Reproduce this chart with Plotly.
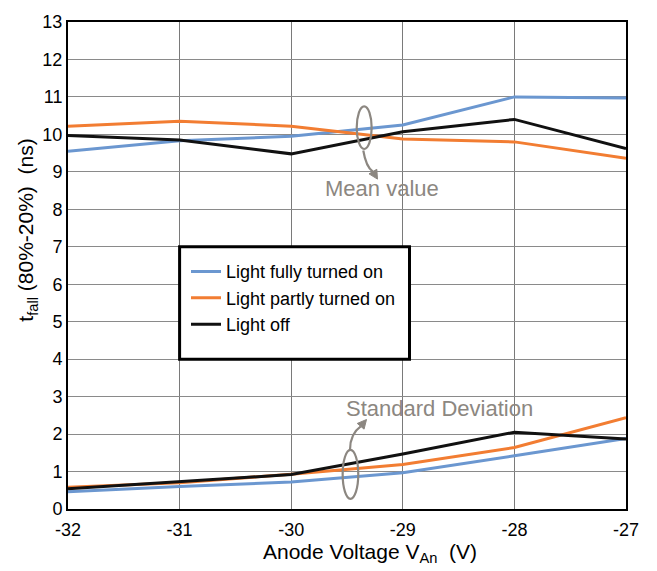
import plotly.graph_objects as go

# ---- data ----
voltage = [-32, -31, -30, -29, -28, -27]

mean_full = [9.55, 9.83, 9.95, 10.25, 11.0, 10.97]
mean_partly = [10.22, 10.35, 10.22, 9.88, 9.80, 9.36]
mean_off = [9.97, 9.85, 9.48, 10.07, 10.40, 9.62]

std_full = [0.46, 0.60, 0.72, 0.97, 1.42, 1.88]
std_partly = [0.58, 0.70, 0.93, 1.19, 1.64, 2.44]
std_off = [0.54, 0.72, 0.92, 1.47, 2.05, 1.87]

series_names = ["Light fully turned on", "Light partly turned on", "Light off"]
series_colors = ["#6b97d0", "#f27d32", "#111111"]

y_ticks = list(range(0, 14))
x_ticks = [-32, -31, -30, -29, -28, -27]

FONT = "Liberation Sans, Arial, sans-serif"
GRAY = "#8c8781"

fig = go.Figure()
for name, color, m, s in zip(series_names, series_colors,
                             [mean_full, mean_partly, mean_off],
                             [std_full, std_partly, std_off]):
    fig.add_trace(go.Scatter(x=voltage, y=m, mode="lines", name=name,
                             line=dict(color=color, width=3), legendgroup=name))
    fig.add_trace(go.Scatter(x=voltage, y=s, mode="lines", name=name,
                             line=dict(color=color, width=3), legendgroup=name,
                             showlegend=False))

shapes = [
    # legend box
    dict(type="rect", xref="x", yref="y", x0=-31.0, x1=-28.94, y0=4.0, y1=7.0,
         line=dict(color="black", width=3), fillcolor="white", layer="above"),
    # mean ellipse + curved arrow
    dict(type="circle", xref="x", yref="y", x0=-29.413, x1=-29.279, y0=9.61, y1=10.75,
         line=dict(color=GRAY, width=2.2), layer="above"),
    dict(type="path", xref="x", yref="y",
         path="M -29.354 9.571 Q -29.330 9.133 -29.268 9.007",
         line=dict(color=GRAY, width=2.2), layer="above"),
    dict(type="path", xref="x", yref="y",
         path="M -29.227 8.806 L -29.303 8.947 L -29.233 9.068 Z",
         line=dict(color=GRAY, width=1), fillcolor=GRAY, layer="above"),
    # std ellipse + curved arrow
    dict(type="circle", xref="x", yref="y", x0=-29.539, x1=-29.399, y0=0.27, y1=1.58,
         line=dict(color=GRAY, width=2.2), layer="above"),
    dict(type="path", xref="x", yref="y",
         path="M -29.473 1.582 Q -29.473 2.009 -29.377 2.208",
         line=dict(color=GRAY, width=2.2), layer="above"),
    dict(type="path", xref="x", yref="y",
         path="M -29.325 2.389 L -29.347 2.132 L -29.408 2.284 Z",
         line=dict(color=GRAY, width=1), fillcolor=GRAY, layer="above"),
]

annotations = [
    dict(x=-29.186, y=8.55, xref="x", yref="y", text="Mean value", showarrow=False,
         font=dict(family=FONT, size=22, color=GRAY), xanchor="center", yanchor="middle"),
    dict(x=-28.669, y=2.68, xref="x", yref="y", text="Standard Deviation", showarrow=False,
         font=dict(family=FONT, size=22, color=GRAY), xanchor="center", yanchor="middle"),
    # axis titles (placed as in the reference)
    dict(x=(370 - 68) / 558, y=(508.7 - 554) / 496.4, xref="paper", yref="paper",
         text="Anode Voltage V<sub>An</sub>\u00a0\u00a0(V)", showarrow=False,
         font=dict(family=FONT, size=21, color="black"), xanchor="center", yanchor="middle"),
    dict(x=(27 - 68) / 558, y=(508.7 - 225) / 496.4, xref="paper", yref="paper",
         text="t<sub>fall</sub> (80%-20%)\u00a0\u00a0(ns)", showarrow=False, textangle=-90,
         font=dict(family=FONT, size=21, color="black"), xanchor="center", yanchor="middle"),
]

fig.update_layout(
    width=657, height=571,
    margin=dict(l=68, r=31, t=12, b=62),
    paper_bgcolor="white", plot_bgcolor="white",
    font=dict(family=FONT, size=18, color="black"),
    showlegend=True,
    legend=dict(x=(186 - 68) / 558, y=(508.7 - 248) / 496.4, xanchor="left", yanchor="top",
                bgcolor="rgba(0,0,0,0)", borderwidth=0,
                font=dict(family=FONT, size=18, color="black"), tracegroupgap=0),
    shapes=shapes,
    annotations=annotations,
)
fig.update_xaxes(range=[-32, -27], tickvals=x_ticks, ticktext=[str(v) for v in x_ticks],
                 showgrid=True, gridcolor="#7a7a7a", gridwidth=1,
                 showline=True, linecolor="black", linewidth=2, mirror=True,
                 ticks="", zeroline=False, tickfont=dict(family=FONT, size=18),
                 ticklabelstandoff=3)
fig.update_yaxes(range=[0, 13], tickvals=y_ticks,
                 showgrid=True, gridcolor="#8a8a8a", gridwidth=1,
                 showline=True, linecolor="black", linewidth=2, mirror=True,
                 ticks="", zeroline=False, tickfont=dict(family=FONT, size=18))

fig.write_html("out.html")
